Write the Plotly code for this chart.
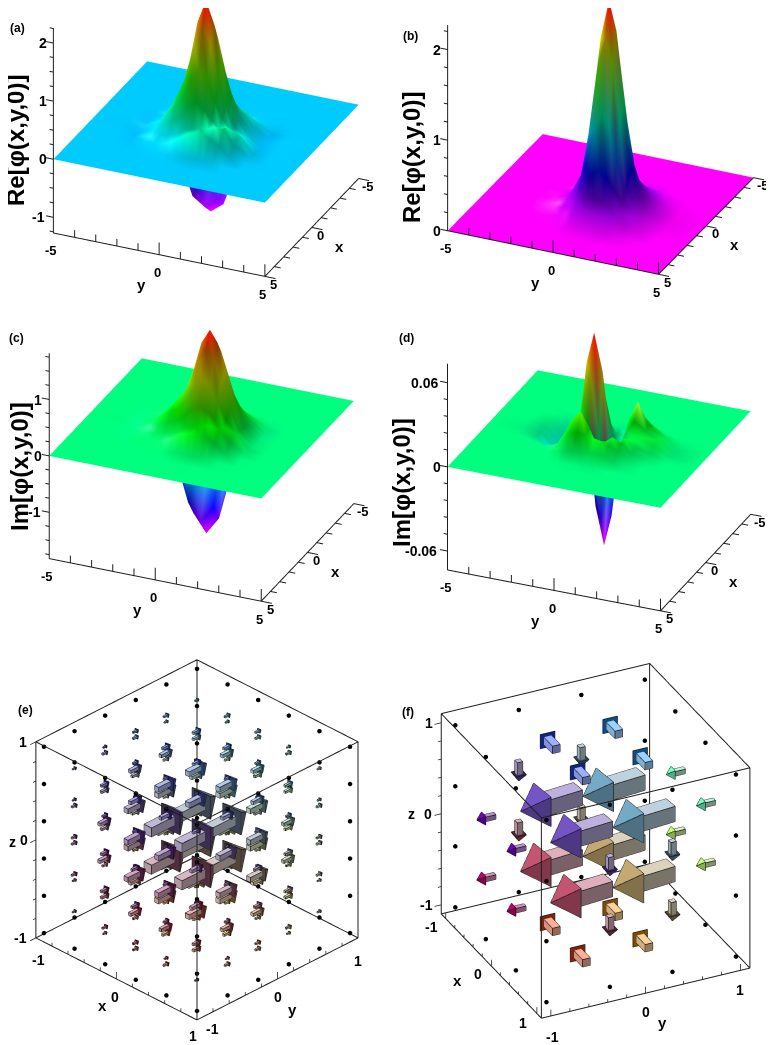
import numpy as np
import plotly.graph_objects as go
from itertools import product

W, H = 774, 1045

# valores
grid = [-5, -3.5, -2.75, -2, -1.5, -1.1, -0.75, -0.4, 0, 0.4, 0.75, 1.1, 1.5, 2, 2.75, 3.5, 5]
lobe_grid = [-1.3, -0.8, -0.2, 0.4, 1.0, 1.6, 2.1]

z_a = [
 [0,0,0,0,0,0,0,0,0,0,0,0,0,0,0],
 [0,0,0,0,0,-.01,-.02,-.03,-.04,-.05,-.04,-.03,-.02,0,0],
 [0,0,0,.01,.02,.03,.05,.08,.12,.10,.06,.03,.02,0,0],
 [0,0,0,.01,.06,.14,.26,.38,.40,.34,.22,.09,.04,.01,0],
 [0,0,.01,.06,.20,.42,.62,.74,.68,.50,.30,.12,.06,.01,0],
 [0,0,.01,.12,.40,.70,1.02,1.20,1.00,.68,.38,.16,.12,.02,0],
 [0,0,.02,.20,.60,1.02,1.57,1.87,1.57,1.02,.58,.24,.20,.03,0],
 [0,0,.02,.26,.70,1.20,1.87,2.26,1.87,1.20,.70,.30,.30,.04,0],
 [0,0,.02,.20,.60,1.02,1.57,1.87,1.57,1.02,.60,.34,.36,.05,0],
 [0,0,.01,.13,.42,.70,1.02,1.20,1.00,.70,.44,.36,.36,.05,0],
 [0,0,.01,.14,.32,.44,.60,.70,.60,.42,.32,.42,.28,.04,0],
 [0,0,.02,.12,.25,.27,.26,.30,.26,.22,.38,.42,.20,.02,0],
 [0,0,.01,.04,.10,.08,.07,.09,.14,.22,.30,.18,.06,.01,0],
 [0,0,0,-.01,-.03,-.04,-.04,-.03,-.02,-.01,.02,.01,0,0,0],
 [0,0,0,0,0,0,0,0,0,0,0,0,0,0,0],
]
lobe_a = [
 [-.01,-.01,-.03,-.05,-.03,-.01,-.01],
 [-.01,-.06,-.35,-.50,-.35,-.06,-.01],
 [-.03,-.35,-.95,-1.10,-.95,-.35,-.03],
 [-.05,-.50,-1.10,-1.27,-1.10,-.50,-.05],
 [-.03,-.35,-.95,-1.10,-.95,-.35,-.03],
 [-.01,-.06,-.35,-.50,-.35,-.06,-.01],
 [-.01,-.01,-.03,-.05,-.03,-.01,-.01],
]
z_b = [
 [0,0,0,0,0,0,0,0,0,0,0,0,0,0,0],
 [0,0,0,0,0,0,0,0,0,0,0,0,0,0,0],
 [0,0,0,0,0,0,.01,.01,.02,.02,.01,.01,0,0,0],
 [0,0,0,0,.01,.02,.03,.05,.06,.06,.06,.05,.02,0,0],
 [0,0,0,.02,.05,.08,.13,.16,.17,.14,.11,.08,.04,0,0],
 [0,0,.01,.04,.09,.18,.29,.39,.33,.23,.15,.10,.07,.01,0],
 [0,0,.02,.08,.20,.43,.73,.93,.79,.50,.28,.17,.11,.02,0],
 [0,0,.03,.13,.37,.84,1.45,1.83,1.52,.90,.43,.20,.13,.03,0],
 [0,0,.03,.15,.45,1.03,1.82,2.27,1.88,1.10,.51,.22,.14,.03,0],
 [0,0,.04,.14,.40,.88,1.55,1.95,1.62,.96,.45,.22,.14,.04,0],
 [0,0,.04,.12,.26,.53,.91,1.18,1.00,.62,.33,.20,.14,.04,0],
 [0,0,.04,.11,.18,.26,.36,.46,.43,.31,.21,.15,.12,.03,0],
 [0,0,.03,.08,.12,.15,.18,.20,.21,.18,.15,.12,.08,.02,0],
 [0,0,0,.02,.03,.05,.06,.07,.08,.07,.06,.05,.02,0,0],
 [0,0,0,0,0,0,0,0,0,0,0,0,0,0,0],
]
z_c = [
 [0,0,0,0,0,0,0,0,0,0,0,0,0,0,0],
 [0,0,0,0,0,-.01,-.02,-.03,-.04,-.04,-.03,-.02,-.01,0,0],
 [0,0,0,.01,.02,.03,.05,.07,.09,.08,.05,.03,.02,0,0],
 [0,0,0,.01,.04,.08,.14,.22,.26,.24,.15,.07,.03,.01,0],
 [0,0,.01,.04,.12,.22,.34,.44,.44,.36,.22,.10,.05,.01,0],
 [0,0,.01,.07,.20,.36,.52,.62,.56,.42,.26,.13,.09,.02,0],
 [0,0,.01,.12,.36,.62,.86,.98,.84,.60,.34,.18,.17,.03,0],
 [0,0,.02,.18,.50,.92,1.32,1.52,1.30,.90,.52,.26,.25,.04,0],
 [0,0,.02,.22,.58,1.04,1.52,1.78,1.52,1.04,.60,.32,.30,.05,0],
 [0,0,.02,.20,.52,.94,1.36,1.58,1.36,.94,.54,.36,.30,.05,0],
 [0,0,.02,.16,.38,.66,.96,1.12,.96,.66,.42,.38,.26,.04,0],
 [0,0,.02,.13,.25,.38,.50,.58,.50,.38,.34,.34,.18,.02,0],
 [0,0,.01,.05,.15,.15,.15,.17,.18,.20,.26,.16,.06,.01,0],
 [0,0,0,-.01,-.02,-.03,-.03,-.02,-.01,0,.02,.01,0,0,0],
 [0,0,0,0,0,0,0,0,0,0,0,0,0,0,0],
]
lobe_c = [
 [-.01,-.01,-.03,-.05,-.03,-.01,-.01],
 [-.01,-.06,-.40,-.60,-.40,-.06,-.01],
 [-.03,-.40,-1.15,-1.45,-1.15,-.40,-.03],
 [-.05,-.60,-1.45,-1.76,-1.45,-.60,-.05],
 [-.03,-.40,-1.15,-1.45,-1.15,-.40,-.03],
 [-.01,-.06,-.40,-.60,-.40,-.06,-.01],
 [-.01,-.01,-.03,-.05,-.03,-.01,-.01],
]
z_d = [
 [0,0,0,0,0,0,0,0,0,0,0,0,0,0,0],
 [0,0,0,0,0,-.001,-.002,-.003,-.003,-.002,-.001,0,0,0,0],
 [0,0,0,-.001,-.003,-.006,-.010,-.013,-.014,-.010,-.004,0,0,0,0],
 [0,0,0,-.001,-.003,-.006,-.010,-.014,-.012,-.006,0,.002,.001,0,0],
 [0,0,0,0,.001,.005,.006,-.002,-.002,.006,.010,.006,.002,0,0],
 [0,0,0,0,.006,.030,.050,.024,.010,.016,.020,.012,.003,0,0],
 [0,0,0,.001,.014,.050,.072,.045,.012,.018,.026,.014,.004,0,0],
 [0,0,0,0,.005,.024,.045,0,-.045,-.012,.016,.013,.004,0,0],
 [0,0,0,-.001,-.003,-.003,-.012,-.050,-.072,-.050,.002,.012,.005,0,0],
 [0,0,0,-.001,-.004,-.003,-.006,-.024,-.050,-.024,.008,.011,.005,0,0],
 [0,0,0,.001,.005,.012,.006,-.002,-.010,.004,.012,.009,.004,0,0],
 [0,0,0,.004,.016,.026,.014,.007,.007,.010,.009,.006,.002,0,0],
 [0,0,0,.002,.009,.012,.009,.007,.006,.005,.003,.002,0,0,0],
 [0,0,0,0,.002,.004,.006,.007,.006,.003,.001,0,0,0,0],
 [0,0,0,0,0,0,0,0,0,0,0,0,0,0,0],
]

z_range_a = [-1.27, 2.26]
z_range_b = [0, 2.27]
z_range_c = [-1.82, 1.82]
z_range_d = [-0.0735, 0.0735]
ticks_a = [-1, 0, 1, 2]
ticks_b = [0, 1, 2]
ticks_c = [-1, 0, 1]
ticks_d = [-0.06, 0, 0.06]
minor_a = [-1.25, -0.75, -0.5, -0.25, 0.25, 0.5, 0.75, 1.25, 1.5, 1.75, 2.25]
minor_b = [.2, .4, .6, .8, 1.2, 1.4, 1.6, 1.8, 2.2]
minor_c = [-1.75, -1.5, -1.25, -0.75, -0.5, -0.25, .25, .5, .75, 1.25, 1.5, 1.75]
minor_d = [-.048, -.036, -.024, -.012, .012, .024, .036, .048]

# campo (e): todas las flechas van en +y, largo segun la capa
e_levels = [-.95, -.57, -.19, .19, .57, .95]
e_dir = (0, 1, 0)
e_lengths = {(.19, .19, .19): .46, (.19, .19, .57): .24, (.19, .57, .57): .15, (.57, .57, .57): .10,
             (.19, .19, .95): .10, (.19, .57, .95): .07, (.57, .57, .95): .05}

# campo (f): 8 grandes al centro, 24 medianas en las caras, el resto puntos
f_levels = [-1, -.33, .33, 1]
f_big = ((.1, -1, 0), .64)
f_face_x = ((0, 0, -1), .22)
f_face_y = ((0, -1, 0), .19)
f_face_z = ((-1, 0, 0), .31)

# escala de color: magenta abajo, rojo arriba
hue_pos = [0, .2, .4, .6, .8, 1]
hue_r = [255, 0, 0, 0, 255, 255]
hue_g = [0, 0, 255, 255, 255, 0]
hue_b = [255, 255, 255, 0, 0, 0]

BOX_PX = 229.0  # pixeles que mide un lado de la caja
NUDGE = 8  # corrimiento propio de la escena
SURF_LIGHT = np.array([-.35, -.45, .82])
SURF_SPEC = np.array([.06, -.40, .91])


def camera_for(eye_dir, box_center, dom):
    e = np.array(eye_dir, dtype=float)
    e = e / np.linalg.norm(e)
    r = np.cross([0, 0, 1], e)
    r = r / np.linalg.norm(r)
    u = np.cross(e, r)
    dx = box_center[0] - (dom[0] + dom[1]) / 2 - NUDGE
    dy = box_center[1] - (dom[2] + dom[3]) / 2 - NUDGE
    world = .495 * (dom[3] - dom[2])
    c = -(dx / world) * r + (dy / world) * u
    eye = c + 3 * e
    return dict(projection=dict(type="orthographic"), up=dict(x=0, y=0, z=1),
                center=dict(x=c[0], y=c[1], z=c[2]), eye=dict(x=eye[0], y=eye[1], z=eye[2]))


def box_scale(dom):
    return BOX_PX / (.495 * (dom[3] - dom[2]))


def domain(dom):
    return dict(x=[dom[0] / W, dom[1] / W], y=[1 - dom[3] / H, 1 - dom[2] / H])


def hidden_axis(rng):
    return dict(visible=False, range=rng, autorange=False)


def tick_label(x, y, z, text, xs, ys, size=13):
    return dict(x=x, y=y, z=z, text=text, showarrow=False, xshift=xs, yshift=ys,
                font=dict(family="Liberation Sans", size=size, color="black", weight="bold"))


def segs_trace(segs, scene, width=2, color="rgb(30,30,30)"):
    xs, ys, zs = [], [], []
    for a, b in segs:
        xs += [a[0], b[0], None]
        ys += [a[1], b[1], None]
        zs += [a[2], b[2], None]
    return go.Scatter3d(x=xs, y=ys, z=zs, mode="lines", line=dict(color=color, width=width),
                        hoverinfo="skip", showlegend=False, scene=scene)


fig = go.Figure()
scenes = {}


def shaded_mesh(xs, ys, Z, zr, scene):
    # malla con sombreado propio: el tono sale de z y el brillo de la normal
    xs, ys, Z = np.array(xs, dtype=float), np.array(ys, dtype=float), np.array(Z, dtype=float)
    zspan = zr[1] - zr[0]
    dzy, dzx = np.gradient(Z / zspan, ys / 10, xs / 10)
    n = np.dstack([-dzx, -dzy, np.ones_like(Z)])
    n = n / np.linalg.norm(n, axis=2, keepdims=True)
    shade = .56 + .56 * np.clip(n @ SURF_LIGHT, 0, None)
    spec = .5 * np.clip(n @ SURF_SPEC, 0, 1) ** 80
    t = np.clip((Z - zr[0]) / zspan, 0, 1)
    rgb = np.dstack([np.interp(t, hue_pos, ch) for ch in (hue_r, hue_g, hue_b)])
    rgb = rgb * np.clip(shade, 0, 1)[:, :, None] + 255 * spec[:, :, None]
    rgb = np.clip(rgb, 0, 255).astype(int)
    ny, nx = Z.shape
    X, Y = np.meshgrid(xs, ys)
    i, j, k = [], [], []
    for a in range(ny - 1):
        for b in range(nx - 1):
            p = a * nx + b
            i += [p, p]
            j += [p + 1, p + nx + 1]
            k += [p + nx + 1, p + nx]
    cols = ["rgb(%d,%d,%d)" % tuple(c) for c in rgb.reshape(-1, 3)]
    return go.Mesh3d(x=X.ravel(), y=Y.ravel(), z=Z.ravel(), i=i, j=j, k=k, vertexcolor=cols,
                     hoverinfo="skip", scene=scene,
                     lighting=dict(ambient=1, diffuse=0, specular=0, roughness=1, fresnel=0))


def surface_panel(name, z, zr, ticks, minor, eye_dir, center, dom, lobe=None):
    zspan = zr[1] - zr[0]
    zpad = [zr[0] - .06 * zspan, zr[1] + .06 * zspan]
    fig.add_trace(shaded_mesh(grid, grid, np.pad(np.array(z, dtype=float), 1), zr, name))
    if lobe is not None:
        fig.add_trace(shaded_mesh(lobe_grid, lobe_grid, lobe, zr, name))
    z0 = zr[0]
    tz = .035 * zspan
    segs = [((5, -5, z0), (5, -5, zr[1])), ((5, -5, z0), (5, 5, z0)), ((5, 5, z0), (-5, 5, z0))]
    for t in range(-5, 6):
        tl = 1.7 if t in (-5, 0, 5) else 1
        segs.append(((5, t, z0), (5, t, z0 + tz * tl)))
        segs.append(((t, 5, z0), (t, 5 + .3 * tl, z0)))
    for t in ticks:
        segs.append(((5, -5, t), (5, -5.35, t)))
    for t in minor:
        segs.append(((5, -5, t), (5, -5.18, t)))
    fig.add_trace(segs_trace(segs, name))
    ann = []
    for t in ticks:
        ann.append(tick_label(5, -5, t, str(t), -(7 + 3.9 * len(str(t))), 0, 14))
    for t in (-5, 0, 5):
        ann.append(tick_label(5, t, z0, str(t), -2, -18, 13))
        ann.append(tick_label(t, 5, z0, str(t), 9, -8, 13))
    ann.append(tick_label(5, -1, z0, "y", 3, -34, 15))
    ann.append(tick_label(0, 5, z0, "x", 28, -19, 15))
    k = box_scale(dom)
    scenes[name] = dict(domain=domain(dom), camera=camera_for(eye_dir, center, dom),
                        aspectmode="manual",
                        aspectratio=dict(x=1.1 * k, y=1.1 * k, z=k * (zpad[1] - zpad[0]) / zspan),
                        xaxis=hidden_axis([-5.5, 5.5]), yaxis=hidden_axis([-5.5, 5.5]),
                        zaxis=hidden_axis(zpad), annotations=ann)


def position_color(p):
    x, y, z = np.array(p)
    r = .55 - .42 * z
    g = .45 + .45 * y
    b = .55 + .45 * z
    return np.clip(np.array([r, g, b]), 0, 1)


LIGHT = np.array([.15, -.55, .82])


def add_arrow(mesh, segs, p, d, L, sw_ratio):
    p = np.array(p, dtype=float)
    d = np.array(d, dtype=float)
    d = d / np.linalg.norm(d)
    ref = np.array([0, 0, 1.0]) if abs(d[2]) < .9 else np.array([1.0, 0, 0])
    n1 = np.cross(d, ref)
    n1 = n1 / np.linalg.norm(n1)
    n2 = np.cross(d, n1)
    sw, hw, hl = sw_ratio * L, .25 * L, .38 * L
    tail, neck, tip = p - d * L / 2, p + d * (L / 2 - hl), p + d * L / 2
    sq = [n1 + n2, n1 - n2, -n1 - n2, -n1 + n2]
    base = len(mesh["v"])
    verts = [tail + sw * s for s in sq] + [neck + sw * s for s in sq] + [neck + hw * s for s in sq] + [tip]
    mesh["v"] += verts
    c = position_color(p)
    shaft = c * .45 + .55
    head = c

    def face(tri, col):
        a, b, c3 = verts[tri[0]], verts[tri[1]], verts[tri[2]]
        n = np.cross(b - a, c3 - a)
        n = n / np.linalg.norm(n)
        if np.dot(n, (a + b + c3) / 3 - (p - d * hl * .3)) < 0:
            n = -n
        shade = .5 + .62 * max(0, np.dot(n, LIGHT))
        mesh["f"].append([base + t for t in tri])
        mesh["c"].append(np.clip(col * shade, 0, 1))

    for i in range(4):
        j = (i + 1) % 4
        face((i, j, j + 4), shaft)
        face((i, j + 4, i + 4), shaft)
        face((8 + i, 8 + j, 12), head)
        segs.append((verts[i], verts[i + 4]))
        segs.append((verts[i], verts[j]))
        segs.append((verts[8 + i], verts[8 + j]))
        segs.append((verts[8 + i], verts[12]))
    face((0, 1, 2), shaft)
    face((0, 2, 3), shaft)
    face((8, 9, 10), head)
    face((8, 10, 11), head)


def field_panel(name, arrows, dots, lim, eye_dir, center, dom, ann, sw_ratio, box_k=1.0):
    mesh = dict(v=[], f=[], c=[])
    segs = []
    for p, d, L in arrows:
        add_arrow(mesh, segs, p, d, L, sw_ratio)
    v = np.array(mesh["v"])
    f = np.array(mesh["f"])
    cols = ["rgb(%d,%d,%d)" % tuple(c * 255) for c in mesh["c"]]
    fig.add_trace(go.Mesh3d(x=v[:, 0], y=v[:, 1], z=v[:, 2], i=f[:, 0], j=f[:, 1], k=f[:, 2],
                            facecolor=cols, flatshading=True, hoverinfo="skip", scene=name,
                            lighting=dict(ambient=1, diffuse=0, specular=0, roughness=1, fresnel=0)))
    fig.add_trace(segs_trace(segs, name, width=1.5, color="rgb(20,20,20)"))
    d = np.array(dots)
    fig.add_trace(go.Scatter3d(x=d[:, 0], y=d[:, 1], z=d[:, 2], mode="markers",
                               marker=dict(size=2.6, color="black"), hoverinfo="skip",
                               showlegend=False, scene=name))
    m = lim
    box = []
    for a, b in product((-m, m), (-m, m)):
        box.append(((a, b, -m), (a, b, m)))
        box.append(((a, -m, b), (a, m, b)))
        box.append(((-m, a, b), (m, a, b)))
    fig.add_trace(segs_trace(box, name, width=2))
    ticks = []
    tv = np.round(np.arange(-1, 1.01, .2), 1)
    tz = .035
    for t in tv:
        big = 2 if t in (-1, 0, 1) else 1
        ticks.append(((t, -m, -m), (t, -m, -m + tz * big)))
        ticks.append(((m, t, -m), (m, t, -m + tz * big)))
        ticks.append(((-m, -m, t), (-m, -m - tz * big, t)))
    fig.add_trace(segs_trace(ticks, name, width=1.5))
    rng = [-1.12 * lim, 1.12 * lim]
    k = box_scale(dom) * 1.12 * box_k
    scenes[name] = dict(domain=domain(dom), camera=camera_for(eye_dir, center, dom),
                        aspectmode="manual", aspectratio=dict(x=k, y=k, z=k),
                        xaxis=hidden_axis(rng), yaxis=hidden_axis(rng), zaxis=hidden_axis(rng),
                        annotations=ann)


surface_panel("scene", z_a, z_range_a, ticks_a, minor_a, (.81, .359, .4627), (206, 103.8), (0, 387, 0, 305), lobe_a)
surface_panel("scene2", z_b, z_range_b, ticks_b, minor_b, (.81, .365, .458), (600.5, 102), (387, 774, 0, 305))
surface_panel("scene3", z_c, z_range_c, ticks_c, minor_c, (.813, .355, .46), (201.5, 429), (0, 387, 305, 650), lobe_c)
surface_panel("scene4", z_d, z_range_d, ticks_d, minor_d, (.815, .345, .45), (599, 439.5), (387, 774, 305, 650))

# flechas (e)
e_arrows, e_dots = [], []
for p in product(e_levels, repeat=3):
    key = tuple(sorted(abs(v) for v in p))
    if key in e_lengths:
        e_arrows.append((p, e_dir, e_lengths[key]))
    else:
        e_dots.append(p)

e_ann = [tick_label(-1, -1, 1, "1", -13, 0, 14), tick_label(-1, -1, 0, "0", -12, 0, 14),
         tick_label(-1, -1, -1, "-1", -15, 0, 14), tick_label(-1, -1, 0, "z", -23, -2, 14),
         tick_label(-1, -1, -1, "-1", 3, -22, 14), tick_label(0, -1, -1, "0", -1, -18, 14),
         tick_label(1, -1, -1, "1", -4, -16, 14), tick_label(0, -1, -1, "x", -14, -27, 15),
         tick_label(1, -1, -1, "-1", 16, -9, 14), tick_label(1, 0, -1, "0", 0, -18, 14),
         tick_label(1, 1, -1, "1", 0, -23, 14), tick_label(1, 0, -1, "y", 15, -31, 15)]
field_panel("scene5", e_arrows, e_dots, 1.0, (.61, -.61, .51), (197, 840), (0, 387, 650, 1045), e_ann, .10, .985)

# flechas (f)
f_arrows, f_dots = [], []
for p in product(f_levels, repeat=3):
    outer = [abs(v) == 1 for v in p]
    if sum(outer) == 0:
        f_arrows.append((p, f_big[0], f_big[1]))
    elif sum(outer) == 1:
        vec, L = (f_face_x if outer[0] else f_face_y if outer[1] else f_face_z)
        f_arrows.append((p, vec, L))
    else:
        f_dots.append(p)

f_ann = [tick_label(-1.1, -1.1, 1, "1", -12, 0, 14), tick_label(-1.1, -1.1, 0, "0", -13, 0, 14),
         tick_label(-1.1, -1.1, -1, "-1", -15, 0, 14), tick_label(-1.1, -1.1, 0, "z", -30, 0, 14),
         tick_label(-1, -1.1, -1.1, "-1", -14, -8, 14), tick_label(0, -1.1, -1.1, "0", -13, -8, 14),
         tick_label(1, -1.1, -1.1, "1", -14, -10, 14), tick_label(0, -1.1, -1.1, "x", -34, -14, 15),
         tick_label(1.1, -1, -1.1, "-1", 2, -21, 14), tick_label(1.1, 0, -1.1, "0", 0, -19, 14),
         tick_label(1.1, 1, -1.1, "1", 0, -20, 14), tick_label(1.1, 0, -1.1, "y", 17, -29, 15)]
field_panel("scene6", f_arrows, f_dots, 1.1, (.78, -.375, .5), (595.5, 841), (387, 774, 650, 1045), f_ann, .13)


def paper_text(x, y, text, size, angle=0):
    return dict(x=x / W, y=1 - y / H, xref="paper", yref="paper", text=text, showarrow=False,
                textangle=angle, xanchor="center", yanchor="middle",
                font=dict(family="Liberation Sans", size=size, color="black", weight="bold"))


annotations = [paper_text(9, 20, "(a)", 12), paper_text(403, 28, "(b)", 12), paper_text(8, 330, "(c)", 12),
               paper_text(398, 330, "(d)", 12), paper_text(17, 702, "(e)", 12), paper_text(400, 704, "(f)", 12),
               paper_text(8, 133, "Re[φ(x,y,0)]", 24, -90), paper_text(403, 149, "Re[φ(x,y,0)]", 24, -90),
               paper_text(11, 459, "Im[φ(x,y,0)]", 24, -90), paper_text(393, 475, "Im[φ(x,y,0)]", 24, -90)]

fig.update_layout(width=W, height=H, margin=dict(l=0, r=0, t=0, b=0), autosize=False,
                  paper_bgcolor="white", showlegend=False, annotations=annotations, **scenes)
fig.write_html("out.html")
